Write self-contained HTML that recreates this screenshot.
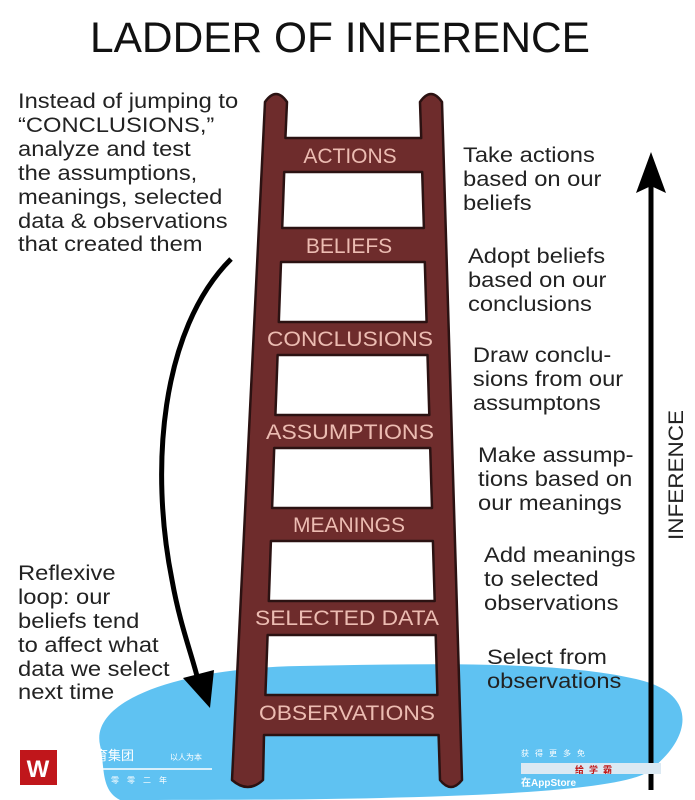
<!DOCTYPE html>
<html><head><meta charset="utf-8"><style>
html,body{margin:0;padding:0;background:#fff}
svg{display:block}
text{font-family:"Liberation Sans","Noto Sans CJK SC",sans-serif}
</style></head><body>
<svg width="695" height="800" viewBox="0 0 695 800" xmlns="http://www.w3.org/2000/svg">
<rect width="695" height="800" fill="#fff"/>
<text x="90" y="52" font-size="43" textLength="500" lengthAdjust="spacingAndGlyphs" fill="#111">LADDER OF INFERENCE</text>
<!-- water -->
<path d="M100,745 C90,700 180,668 300,666 C420,664 560,660 640,680 C700,695 690,740 650,770 C620,800 300,800 120,800 C100,790 105,765 100,745 Z" fill="#5fc2f2"/>
<!-- ladder -->
<path fill-rule="evenodd" fill="#6e2c2c" stroke="#2b1212" stroke-width="2.5" stroke-linejoin="round" d="
M265,102 Q276,86 287,102 L285.4,138 L421.2,138 L420,102 Q431,86 442,102 L462,780 Q451,794 440,780 L438.6,735 L264,735 L263,780 Q248,794 232,780 Z
M284.2,172 L422.2,172 L423.9,228 L282.2,228 Z
M281,262 L424.8,262 L426.6,322 L278.8,322 Z
M277.6,355 L427.5,355 L429.3,415 L275.4,415 Z
M274.2,448 L430.2,448 L432,508 L272.1,508 Z
M270.9,541 L432.9,541 L434.7,601 L268.8,601 Z
M267.6,635 L435.7,635 L437.4,695 L265.4,695 Z"/>
<g fill="#ecbcb2" font-size="21" text-anchor="middle">
<text x="350" y="163">ACTIONS</text>
<text x="349" y="253">BELIEFS</text>
<text x="350" y="346" textLength="166" lengthAdjust="spacingAndGlyphs">CONCLUSIONS</text>
<text x="350" y="439" textLength="168" lengthAdjust="spacingAndGlyphs">ASSUMPTIONS</text>
<text x="349" y="532">MEANINGS</text>
<text x="347" y="625" textLength="184" lengthAdjust="spacingAndGlyphs">SELECTED DATA</text>
<text x="347" y="720" textLength="176" lengthAdjust="spacingAndGlyphs">OBSERVATIONS</text>
</g>
<g fill="#222" font-size="21" transform="translate(18,0) scale(1.13,1)">
<text x="0" y="108">Instead of jumping to</text>
<text x="0" y="132">“CONCLUSIONS,”</text>
<text x="0" y="156">analyze and test</text>
<text x="0" y="180">the assumptions,</text>
<text x="0" y="204">meanings, selected</text>
<text x="0" y="228">data &amp; observations</text>
<text x="0" y="251">that created them</text>
<text x="0" y="580">Reflexive</text>
<text x="0" y="604">loop: our</text>
<text x="0" y="628">beliefs tend</text>
<text x="0" y="652">to affect what</text>
<text x="0" y="676">data we select</text>
<text x="0" y="699">next time</text>
</g>
<g fill="#222" font-size="21" transform="translate(463,0) scale(1.13,1)">
<text x="0" y="162">Take actions</text>
<text x="0" y="186">based on our</text>
<text x="0" y="210">beliefs</text>
<text x="4.4" y="263">Adopt beliefs</text>
<text x="4.4" y="287">based on our</text>
<text x="4.4" y="311">conclusions</text>
<text x="8.8" y="362">Draw conclu-</text>
<text x="8.8" y="386">sions from our</text>
<text x="8.8" y="410">assumptons</text>
<text x="13.3" y="462">Make assump-</text>
<text x="13.3" y="486">tions based on</text>
<text x="13.3" y="510">our meanings</text>
<text x="18.6" y="562">Add meanings</text>
<text x="18.6" y="586">to selected</text>
<text x="18.6" y="610">observations</text>
<text x="21.2" y="664">Select from</text>
<text x="21.2" y="688">observations</text>
</g>
<!-- curved arrow -->
<path d="M231,259 C160,330 150,470 172,580 C180,625 192,655 198,680" fill="none" stroke="#000" stroke-width="5"/>
<path d="M183,678 L214,670 L210,708 Z" fill="#000"/>
<!-- inference arrow -->
<line x1="651" y1="185" x2="651" y2="790" stroke="#000" stroke-width="5"/>
<path d="M651,152 L666,193 L651,186 L636,193 Z" fill="#000"/>
<text transform="translate(683,540) rotate(-90)" font-size="21" fill="#222" textLength="130" lengthAdjust="spacingAndGlyphs">INFERENCE</text>
<!-- watermarks -->
<rect x="20" y="750" width="37" height="35" fill="#c0161b"/>
<text x="38" y="777" font-size="24" fill="#fff" text-anchor="middle" font-weight="bold">W</text>
<text x="95" y="760" font-size="13" fill="#fff">育集团</text>
<text x="170" y="760" font-size="8" fill="#fff">以人为本</text>
<line x1="92" y1="769" x2="212" y2="769" stroke="#fff" stroke-width="1.5"/>
<text x="95" y="783" font-size="8" fill="#fff" letter-spacing="8">二零零二年</text>
<text x="521" y="756" font-size="8" fill="#fff" letter-spacing="6">获得更多免</text>
<rect x="521" y="763" width="140" height="11" fill="#dbe9f3"/>
<text x="575" y="773" font-size="9" fill="#c01818" font-weight="bold" letter-spacing="5">给学霸</text>
<text x="521" y="786" font-size="10" fill="#fff" font-weight="bold">在AppStore</text>
</svg>
</body></html>
